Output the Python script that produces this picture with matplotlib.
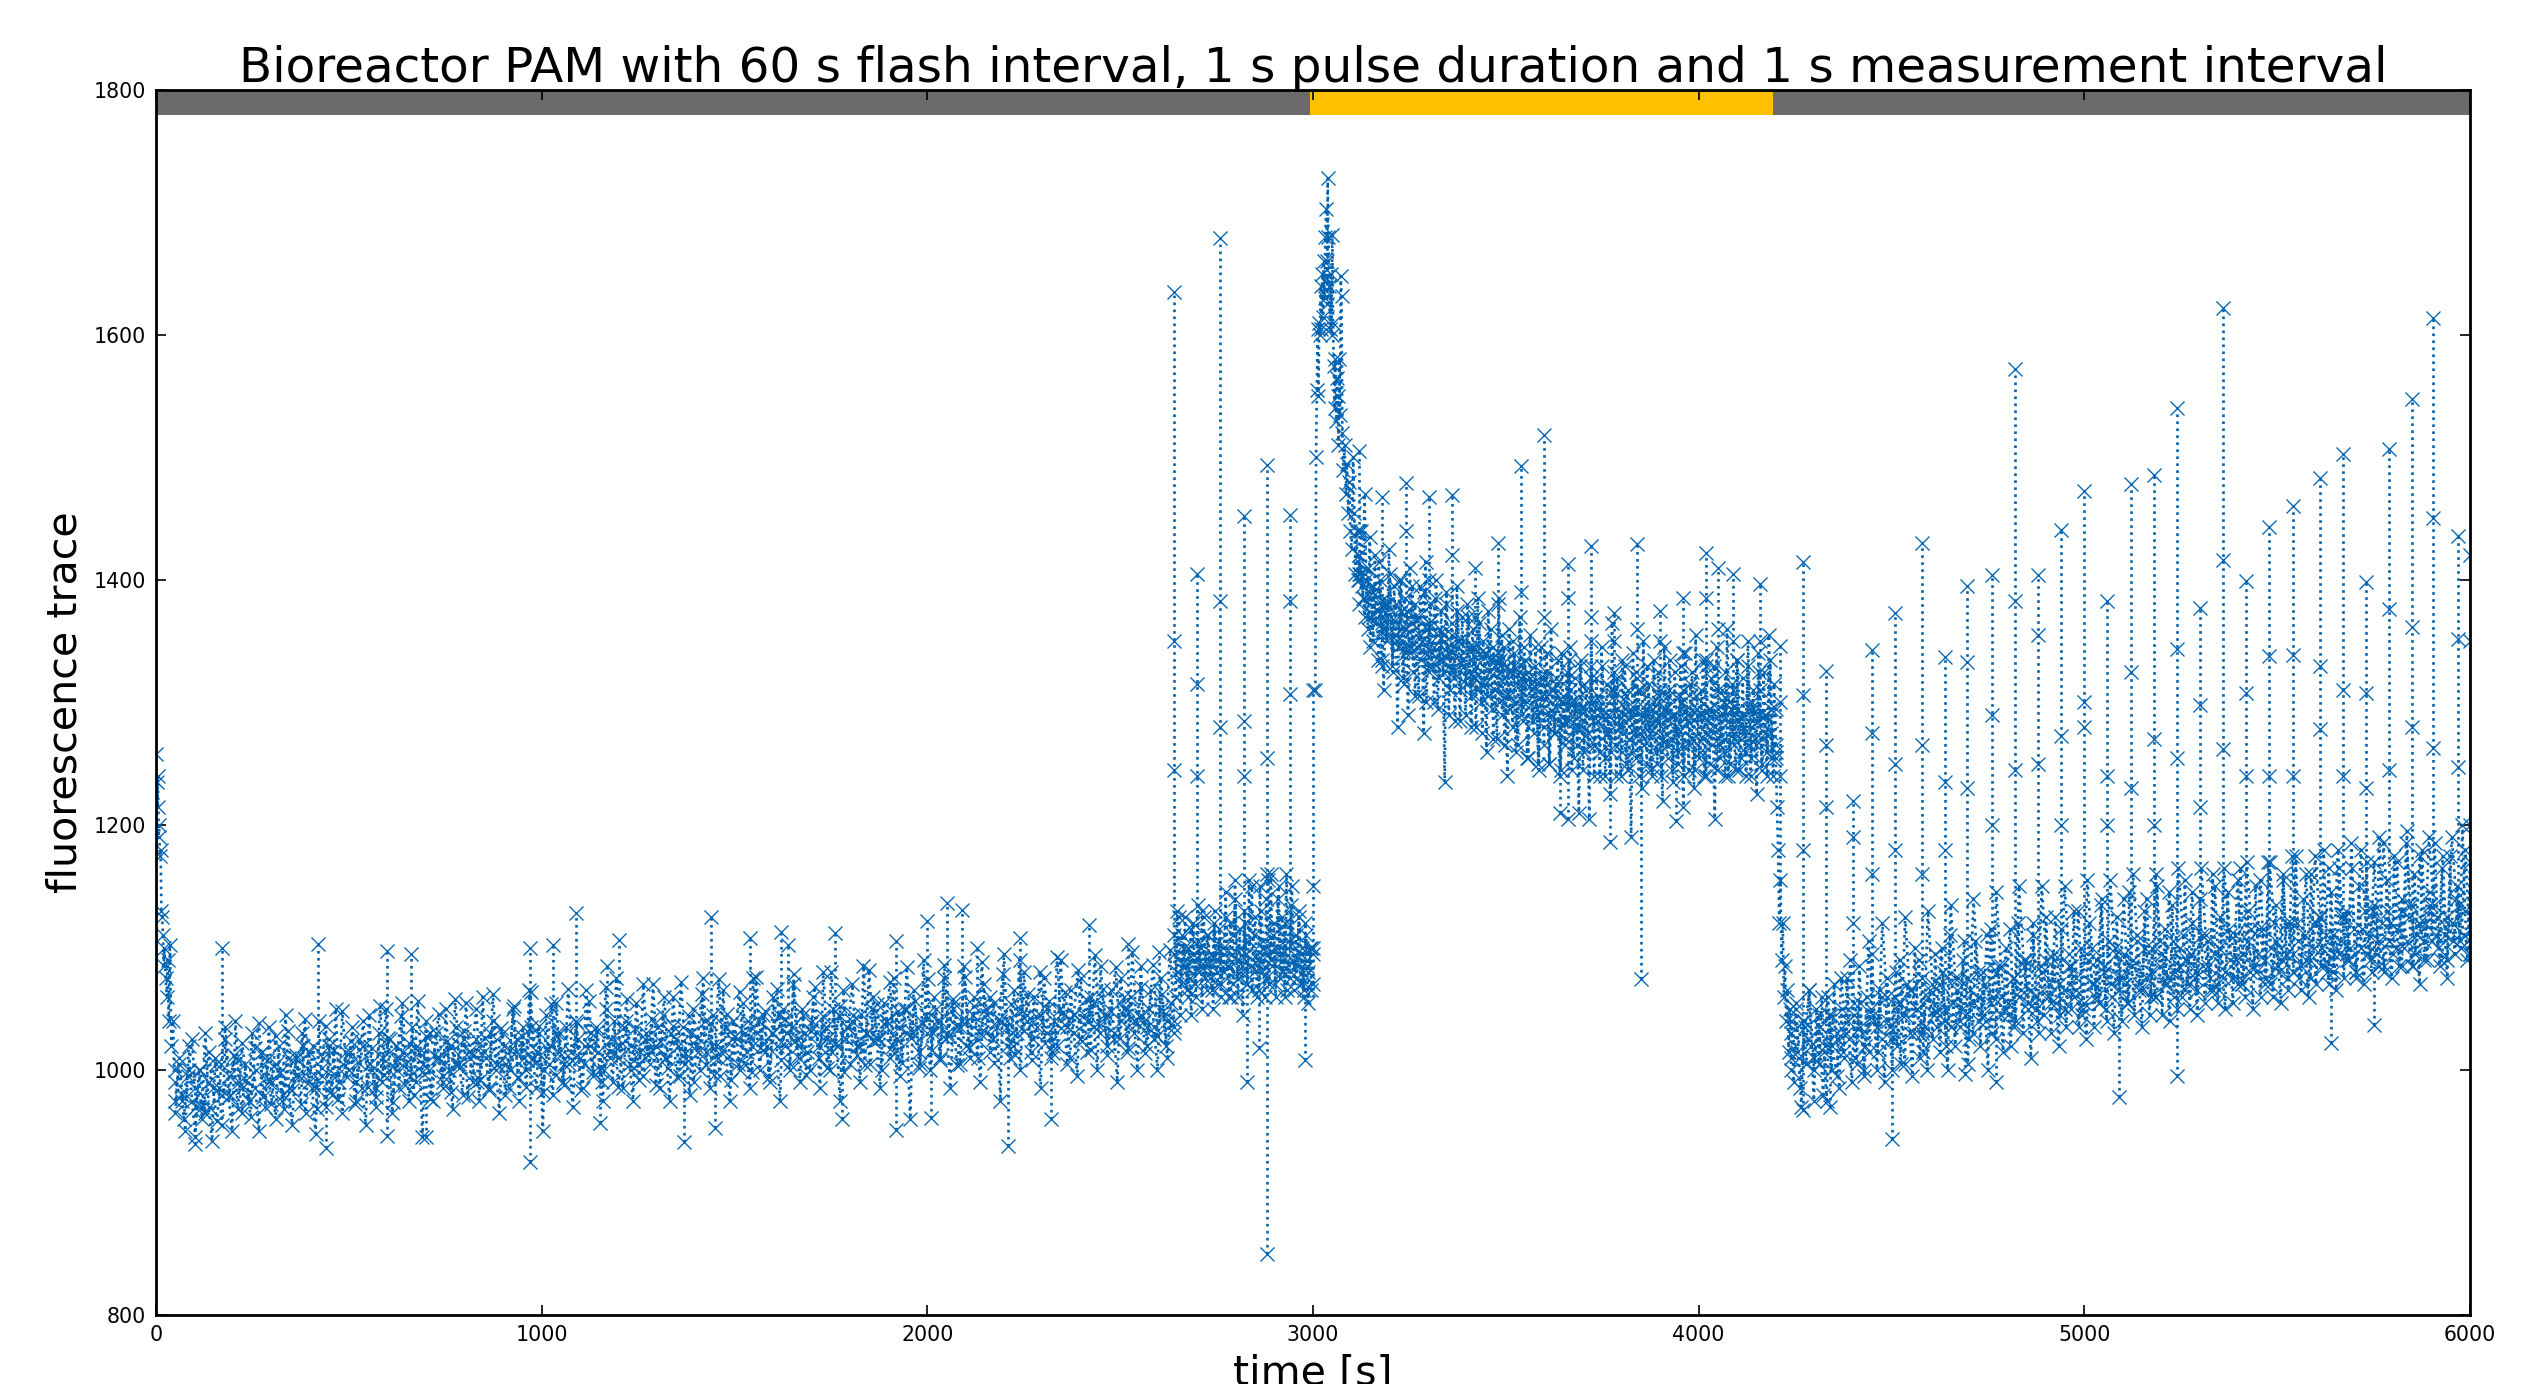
import numpy as np
import matplotlib
matplotlib.use("Agg")
import matplotlib.pyplot as plt

TITLE = "Bioreactor PAM with 60 s flash interval, 1 s pulse duration and 1 s measurement interval"
BLUE = "#0063b1"

# dark phase, 0-30 s decay
decay_t = [0, 2, 4, 5, 7, 8, 10, 12, 14, 16, 18, 20, 22, 25, 28, 30, 33, 36, 40, 44, 48]
decay_v = [1258, 1235, 1215, 1240, 1190, 1200, 1175, 1180, 1130, 1125, 1110, 1085, 1100, 1075, 1060, 1090, 1040, 1102, 1020, 1040, 1000]

# dark phase band, 50-2640 s
band_a = [965,1005,980,950,1020,975,945,1000,960,1030,970,942,1010,985,955,1025,978,950,1040,990,965,1005,975,1030,985,950,1015,970,1035,990,
 960,1020,975,1045,985,955,1010,995,1030,965,1015,985,948,1040,995,970,1020,980,1050,990,965,1015,1000,1035,975,1025,985,955,1045,1000,
 970,1030,990,1050,1000,965,1020,985,1055,1005,975,1035,990,1015,945,1040,1000,975,1030,1010,985,1050,1000,968,1035,1005,980,1055,1015,990,
 1025,975,1060,1010,985,1040,1000,965,1030,1005,985,1050,1015,975,1035,1000,1065,1010,985,1030,950,1045,1005,980,1055,1015,990,1035,1005,970,
 1040,1010,985,1065,1020,995,1035,1000,975,1050,1015,990,1075,1020,985,1040,1005,975,1055,1015,995,1030,1005,1070,1020,985,1045,1010,975,1060,
 1025,995,1035,1010,980,1050,1020,1000,1075,1015,985,1045,1020,995,1065,1010,975,1040,1025,1000,1055,1015,985,1075,1030,1000,1045,1020,990,1060,
 1020,975,1050,1030,1005,1070,1025,990,1045,1015,1000,1060,1030,985,1080,1025,1000,1050,1020,975,1065,1035,1005,1045,1020,990,1085,1030,1005,1060,
 1025,985,1055,1040,1010,1075,1025,995,1050,1030,960,1065,1035,1005,1090,1030,1000,1060,1040,1010,1075,1030,985,1055,1035,1005,1085,1040,1010,1060,
 1025,990,1070,1045,1015,1055,1035,975,1095,1040,1010,1065,1030,1000,1080,1045,1015,1060,1035,985,1075,1050,1010,1040,1020,1090,1045,1005,1065,1030,
 995,1075,1045,1015,1060,1035,1000,1085,1045,1020,1065,1030,990,1075,1050,1015,1060,1040,1000,1085,1040,1020,1065,1035,1000,1075,1045,1010,1055,1035]
band_a2 = [990,975,1000,985,970,990,1005,980,995,1010,985,975,1000,1015,990,1005,980,1010,995,1020,1000,985,1010,1025,995,1005,1015,990,1020,1005,
 985,1010,1025,1000,1015,995,1020,1005,1030,1010,995,1020,1005,1025,1010,990,1015,1030,1005,1020,1000,1025,1010,1035,1015,1000,1020,1030,1005,1015,
 1025,1005,1030,1015,1000,1025,1010,1035,1020,1005,1025,1015,1035,1010,1030,1020,1005,1030,1015,1040,1020,1010,1035,1025,1005,1030,1020,1040,1015,1030,
 1045,1020,1035,1010,1030,1040,1020,1035,1015,1045,1025,1040,1020,1030,1050,1025,1040,1020,1035,1050,1030,1015,1045,1030,1040,1025,1050,1035,1020,1045,
 1030,1050,1025,1040,1035,1020,1050,1040,1025,1045,1030,1020,1050,1035,1045,1025,1040,1055,1030,1045,1025,1040,1050,1030,1045,1035,1025,1050,1040,1030]
band_a3 = [975,1010,960,995,1025,970,1000,965,1015,985,958,1005,1035,980,1012,968,1022,992,962,1018,1038,978,1008,972,1028,998,968,1032,984,1012,
 972,1042,990,1020,968,1002,1036,982,1016,976,1048,994,1024,972,1006,1040,986,1018,978,1052,996,1026,974,1008,1044,988,1022,980,1056,998,
 1028,976,1012,1046,990,1024,982,1058,1002,1032,978,1014,1050,992,1026,984,1062,1004,1034,980,1016,1052,994,1028,986,1064,1006,1036,982,1018,
 1054,996,1030,988,1066,1008,1038,984,1020,1056,998,1032,990,1068,1010,1040,986,1022,1058,1000,1034,992,1070,1012,1042,988,1024,1060,1002,1036,
 994,1072,1014,1044,990,1026,1062,1004,1038,996,1074,1016,1046,992,1028,1064,1006,1040,998,1076,1018,1048,994,1030,1066,1008,1042,1000,1078,1020,
 1050,996,1032,1068,1010,1044,1002,1080,1022,1052,998,1034,1070,1012,1046,1004,1082,1024,1054,1000,1036,1072,1014,1048,1006,1084,1026,1056,1002,1038,
 1074,1016,1050,1008,1086,1028,1058,1004,1040,1076,1018,1052,1010,1088,1030,1060,1006,1042,1078,1020,1054,1012,1090,1032,1062,1008,1044,1080,1022,1056,
 1014,1092,1034,1064,1010,1046,1082,1024,1058,1016,1094,1036,1066,1012,1048,1084,1026,1060,1018,1096,1038,1068,1014,1050,1086,1028,1062,1020,1098,1040]

# dark phase, after the actinic shift, 2640-3000 s
band_b = [1095,1060,1130,1075,1045,1110,1085,1125,1065,1100,1075,1045,1120,1090,1060,1135,1080,1100,1050,1125,1085,1065,1110,1075,1095,1050,1130,1090,1070,1115,
 1060,1100,1080,1145,1085,1060,1120,1095,1070,1155,1090,1060,1115,1080,1045,1130,1095,1070,1155,1085,1065,1110,1125,1060,1090,1150,1080,1105,1060,1140,
 1095,1070,1160,1085,1120,1060,1100,1150,1075,1125,1090,1060,1160,1100,1075,1135,1090,1065,1110,1085,1130,1070,1100,1060,1120,1085,1055,1100,1065,1095]
band_b2 = [1110,1080,1125,1070,1100,1085,1060,1115,1095,1070,1105,1085,1130,1075,1110,1090,1065,1120,1080,1105,1070,1095,1125,1085,1060,1110,1140,1075,1100,1085,
 1120,1070,1105,1150,1080,1095,1065,1130,1100,1075,1155,1090,1110,1070,1140,1095,1080,1120,1065,1105,1150,1085,1075,1125,1095,1065,1110,1080,1100,1070]

# light phase, initial peak 3000-3120 s
peak_t = [3002,3004,3006,3008,3010,3012,3014,3016,3018,3020,3022,3024,3026,3028,3030,3032,3033,3034,3036,3038,3040,3042,3044,3046,3048,3050,3052,3054,3056,3058,3060,3062,3064,3066,3068,3070,3072,3075,3078,3081,3084,3087,3090,3093,3096,3100,3103,3106,3109,3112,3115,3118]
peak_v = [1310,1500,1555,1605,1550,1610,1600,1640,1605,1650,1615,1660,1630,1680,1703,1660,1625,1728,1680,1640,1605,1650,1600,1682,1610,1575,1540,1580,1530,1565,1550,1510,1580,1535,1648,1632,1520,1490,1510,1470,1495,1455,1480,1440,1425,1500,1455,1405,1440,1400,1420,1405]

# light phase band, 3120-4200 s
band_c = [1405,1440,1385,1470,1400,1360,1435,1385,1350,1420,1375,1335,1400,1365,1310,1380,1350,1425,1370,1330,1395,1355,1280,1400,1360,1320,1385,1345,1290,1410,
 1365,1325,1380,1345,1305,1395,1350,1275,1415,1360,1325,1380,1340,1300,1400,1355,1320,1375,1335,1235,1390,1345,1310,1365,1325,1285,1395,1350,1310,1370,
 1330,1290,1380,1345,1305,1360,1320,1280,1385,1340,1300,1350,1315,1260,1375,1335,1295,1345,1310,1270,1385,1330,1290,1345,1305,1240,1360,1325,1280,1340,
 1300,1265,1370,1320,1285,1335,1300,1255,1355,1315,1275,1330,1290,1245,1345,1305,1265,1325,1290,1250,1360,1310,1275,1320,1285,1240,1340,1300,1265,1325,
 1285,1345,1300,1255,1320,1280,1210,1335,1295,1260,1310,1275,1205,1350,1300,1265,1320,1285,1240,1345,1295,1255,1315,1275,1225,1365,1305,1265,1320,1280,
 1240,1335,1290,1250,1310,1270,1190,1340,1295,1255,1310,1275,1230,1350,1290,1250,1315,1275,1240,1335,1285,1250,1305,1265,1220,1345,1295,1255,1310,1270,
 1235,1325,1280,1250,1305,1265,1215,1340,1290,1245,1315,1270,1230,1355,1295,1255,1310,1270,1240,1335,1285,1250,1320,1275,1205,1345,1295,1255,1310,1270,
 1240,1360,1300,1250,1315,1275,1245,1335,1285,1255,1320,1275,1240,1350,1295,1255,1310,1270,1225,1340,1290,1250,1325,1275,1240,1355,1295,1255,1315,1265]
band_c2 = [1400,1385,1370,1395,1375,1360,1380,1365,1350,1375,1360,1345,1370,1355,1340,1365,1345,1335,1355,1340,1325,1350,1335,1320,1345,1330,1315,1340,1325,1310,
 1335,1320,1305,1330,1315,1300,1325,1310,1295,1320,1305,1290,1315,1300,1285,1310,1295,1280,1315,1300,1285,1305,1290,1275,1310,1295,1280,1305,1290,1275,
 1310,1295,1280,1300,1285,1270,1305,1290,1275,1300,1285,1270,1305,1290,1275,1295,1280,1265,1300,1285,1270,1295,1280,1265,1300,1285,1270,1290,1275,1260]
band_c3 = [1420,1395,1370,1410,1345,1390,1365,1415,1335,1385,1355,1405,1325,1380,1345,1400,1315,1375,1340,1395,1305,1370,1335,1390,1300,1365,1330,1385,1295,1360,
 1325,1380,1290,1355,1320,1375,1285,1350,1315,1370,1280,1345,1310,1365,1275,1340,1305,1360,1270,1335,1300,1355,1265,1330,1295,1350,1260,1325,1290,1345,
 1255,1320,1285,1345,1250,1315,1280,1340,1250,1310,1275,1335,1245,1305,1270,1335,1245,1300,1265,1330,1245,1295,1265,1330,1240,1295,1260,1330,1240,1290,
 1260,1325,1240,1290,1260,1330,1245,1295,1260,1325,1240,1290,1265,1330,1245,1295,1260,1325,1240,1295,1265,1335,1245,1290,1260,1330,1240,1295,1265,1325,
 1245,1290,1260,1335,1240,1295,1265,1330,1245,1290,1260,1325,1240,1295,1265,1335,1245,1290,1260,1330,1240,1295,1265,1325,1245,1290,1260,1335,1240,1295]

# dark phase, drop 4200-4240 s
drop_t = [4200,4203,4206,4209,4212,4215,4218,4221,4224,4227,4230,4233,4236,4240]
drop_v = [1255,1215,1180,1120,1155,1090,1120,1060,1085,1040,1065,1015,1050,1000]

# dark phase recovery band, 4240-6000 s
band_d = [1040,990,1055,1010,970,1040,1005,1065,1020,975,1050,1005,1060,1015,975,1045,1000,1070,1025,985,1050,1010,1075,1025,990,1045,1005,1085,1030,995,
 1060,1015,1095,1040,1000,1065,1025,990,1075,1035,1000,1060,1020,1090,1045,1005,1070,1030,995,1100,1050,1010,1075,1035,1000,1065,1025,1095,1050,1015,
 1080,1040,1000,1110,1055,1020,1075,1035,1090,1045,1005,1065,1030,1105,1060,1020,1080,1040,1000,1115,1060,1025,1085,1045,1015,1100,1055,1020,1075,1040,
 1120,1065,1030,1090,1050,1010,1110,1060,1030,1085,1045,1125,1070,1030,1095,1055,1020,1115,1065,1035,1085,1050,1130,1075,1035,1100,1055,1025,1120,1070,
 1035,1090,1055,1140,1080,1040,1105,1060,1030,1125,1075,1040,1095,1055,1145,1085,1045,1110,1065,1035,1130,1075,1045,1100,1060,1150,1085,1045,1115,1070,
 1040,1135,1080,1050,1100,1060,1155,1090,1050,1120,1075,1045,1140,1085,1055,1105,1065,1160,1095,1055,1125,1075,1050,1145,1090,1055,1110,1070,1165,1095,
 1060,1130,1080,1050,1150,1095,1060,1115,1075,1170,1100,1060,1135,1085,1055,1155,1095,1065,1120,1080,1175,1105,1065,1140,1090,1060,1160,1100,1070,1125,
 1085,1180,1110,1070,1145,1095,1065,1165,1105,1075,1130,1090,1185,1115,1075,1150,1100,1070,1170,1110,1080,1135,1095,1190,1120,1080,1155,1105,1075,1175,
 1115,1085,1140,1100,1195,1125,1085,1160,1110,1070,1180,1120,1090,1145,1105,1185,1125,1085,1165,1110,1075,1175,1120,1095,1150,1105,1200,1130,1090,1170]
band_d2 = [1030,1015,1040,1025,1010,1035,1020,1045,1030,1015,1040,1055,1035,1020,1050,1035,1060,1040,1025,1055,1045,1065,1050,1030,1060,1045,1070,1050,1035,1065,
 1050,1075,1055,1040,1070,1055,1080,1060,1045,1075,1060,1085,1065,1050,1080,1060,1090,1070,1050,1085,1065,1045,1090,1070,1055,1085,1070,1095,1075,1055,
 1090,1070,1100,1080,1060,1095,1075,1105,1085,1065,1095,1080,1110,1085,1065,1100,1080,1110,1090,1070,1105,1085,1115,1090,1070,1105,1090,1120,1095,1075,
 1110,1090,1120,1100,1080,1110,1095,1125,1100,1080,1115,1095,1130,1105,1085,1120,1100,1130,1105,1085,1120,1105,1135,1110,1090,1125,1105,1135,1110,1095]
band_d3 = [1010,1050,985,1035,1065,1000,1045,980,1060,1020,995,1075,1030,1090,1010,1055,1000,1105,1045,1015,1120,1060,1025,1080,1005,1125,1065,1030,1090,1015,
 1130,1070,1035,1100,1020,1135,1075,1040,1105,1025,1140,1080,1045,1110,1030,1145,1085,1050,1115,1035,1150,1090,1055,1120,1040,1150,1090,1055,1125,1045,
 1150,1095,1060,1130,1050,1155,1100,1060,1135,1050,1155,1100,1065,1140,1055,1160,1105,1065,1140,1060,1160,1105,1070,1145,1060,1165,1110,1070,1145,1065,
 1165,1110,1075,1150,1065,1165,1115,1075,1155,1070,1170,1115,1080,1155,1070,1170,1120,1080,1160,1075,1175,1120,1085,1160,1075,1175,1125,1085,1165,1080,
 1180,1125,1090,1165,1080,1180,1130,1090,1170,1085,1185,1130,1095,1170,1085,1185,1135,1095,1175,1090,1190,1135,1100,1175,1090,1190,1140,1100,1180,1095]

# flash spikes: time, tip value, second value on the way down
spike_t = [2640,2700,2760,2820,2880,2940,3000,3120,3180,3240,3300,3360,3420,3480,3540,3600,3660,3720,3780,3840,3900,3960,4020,4050,4090,4160,4210,
 4270,4330,4400,4450,4510,4580,4640,4695,4760,4820,4880,4940,5000,5060,5120,5180,5240,5300,5360,5420,5480,5540,5610,5670,5730,5790,5850,5905,5970,6000]
spike_tip = [1635,1405,1679,1452,1494,1453,1310,1505,1468,1479,1468,1469,1410,1430,1493,1518,1413,1428,1373,1429,1375,1385,1422,1410,1405,1397,1346,
 1415,1326,1220,1343,1373,1430,1337,1395,1404,1572,1404,1441,1473,1383,1478,1486,1540,1377,1622,1399,1443,1460,1483,1503,1398,1507,1548,1614,1436,1420]
spike_mid = [1350,1315,1383,1285,1255,1383,1150,1440,1380,1440,1400,1420,1370,1380,1390,1370,1385,1370,1350,1360,1350,1340,1385,1360,1350,1350,1300,
 1306,1265,1190,1275,1250,1265,1235,1333,1290,1383,1355,1273,1300,1240,1325,1270,1344,1298,1416,1308,1338,1339,1330,1310,1308,1376,1362,1451,1352,1350]
spike_low = [1245,1240,1280,1240,1160,1307,1100,1380,1330,1340,1330,1340,1320,1340,1330,1320,1320,1320,1310,1320,1310,1310,1330,1310,1310,1310,1240,
 1180,1215,1120,1160,1180,1160,1180,1230,1200,1245,1250,1200,1280,1200,1230,1200,1255,1215,1262,1240,1240,1240,1278,1240,1230,1245,1280,1263,1247,1200]
spike_base = [1100,1100,1090,1090,1100,1100,1060,1400,1370,1360,1350,1340,1320,1310,1300,1300,1295,1295,1290,1290,1290,1290,1285,1285,1285,1285,1150,
 1040,1040,1050,1060,1060,1070,1070,1075,1080,1080,1085,1090,1090,1095,1095,1095,1100,1100,1100,1105,1105,1105,1110,1110,1110,1115,1115,1120,1120,1120]

# small excursions in the dark phase, and isolated low/high points
small_t = [170,420,600,660,970,1030,1090,1170,1200,1440,1540,1620,1640,1760,1920,2000,2050,2090,2130,2240,2420,2520,2600]
small_tip = [1100,1103,1097,1095,1100,1102,1128,1085,1106,1125,1108,1113,1102,1112,1105,1122,1136,1131,1100,1108,1118,1103,1096]
small_base = [1010,1010,1015,1015,1020,1020,1020,1020,1020,1025,1025,1030,1030,1035,1035,1040,1040,1040,1040,1040,1040,1040,1040]
low_t = [100,440,600,700,970,1150,1370,1450,1780,1920,2010,2210,2320,2880,2860,2830,2980,3640,3660,3770,3850,3940,4270,4340,4500,4690,4770,5090,5240,5640,5750]
low_v = [940,936,946,945,925,957,941,953,960,951,961,938,960,850,1018,990,1008,1210,1205,1186,1074,1203,967,970,944,997,990,978,995,1022,1037]
low_base = [985,1000,1005,1010,1015,1015,1020,1020,1030,1030,1035,1035,1035,1090,1090,1090,1080,1290,1290,1285,1280,1280,1040,1040,1060,1070,1075,1090,1095,1105,1105]

fig = plt.figure(figsize=(25.46, 13.84), dpi=100)
ax = fig.add_axes([156/2546, 1 - 1315/1384, (2470-156)/2546, (1315-90)/1384])

style = dict(color=BLUE, ls=":", lw=1.9, marker="x", ms=9.5, mew=0.95, mec=BLUE)

def seg(values, start, stop):
    return np.linspace(start, stop, len(values)), np.array(values)

for vals, a, b in [(band_a, 50, 2640), (band_a2, 50, 2640), (band_a3, 50, 2640),
                   (band_b, 2640, 3000), (band_b2, 2640, 3000),
                   (band_c, 3120, 4200), (band_c2, 3120, 4200), (band_c3, 3120, 4200),
                   (band_d, 4240, 6000), (band_d2, 4240, 6000), (band_d3, 4240, 6000)]:
    t, v = seg(vals, a, b)
    ax.plot(t, v, **style)
ax.plot(decay_t, decay_v, **style)
ax.plot(np.array(peak_t) + 4, peak_v, **style)
ax.plot(drop_t, drop_v, **style)

ax.vlines(spike_t, spike_base, spike_tip, color=BLUE, ls=":", lw=1.9)
ax.vlines(small_t, small_base, small_tip, color=BLUE, ls=":", lw=1.9)
ax.vlines(low_t, low_v, low_base, color=BLUE, ls=":", lw=1.9)
mk = dict(color=BLUE, ls="none", marker="x", ms=9.5, mew=0.95)
ax.plot(spike_t, spike_tip, **mk)
ax.plot(spike_t, spike_mid, **mk)
ax.plot(spike_t, spike_low, **mk)
ax.plot(small_t, small_tip, **mk)
ax.plot(low_t, low_v, **mk)

ax.set_xlim(0, 6000)
ax.set_ylim(800, 1800)
ax.axhspan(1780, 1800, xmin=0, xmax=2993/6000, color="#6b6b6b", lw=0)
ax.axhspan(1780, 1800, xmin=2993/6000, xmax=4193/6000, color="#ffc000", lw=0)
ax.axhspan(1780, 1800, xmin=4193/6000, xmax=1, color="#6b6b6b", lw=0)

ax.set_xticks(range(0, 6001, 1000))
ax.set_yticks(range(800, 1801, 200))
ax.tick_params(direction="in", length=7, width=1.2, top=True, right=True, labelsize=14.8, pad=7)
for s in ax.spines.values():
    s.set_linewidth(2)
ax.set_xlabel("time [s]", fontsize=29.6, labelpad=7)
ax.set_ylabel("fluorescence trace", fontsize=29.6, labelpad=6)
ax.set_title(TITLE, fontsize=34.9, pad=6)
fig.savefig("out.png", dpi=100, facecolor="white")
